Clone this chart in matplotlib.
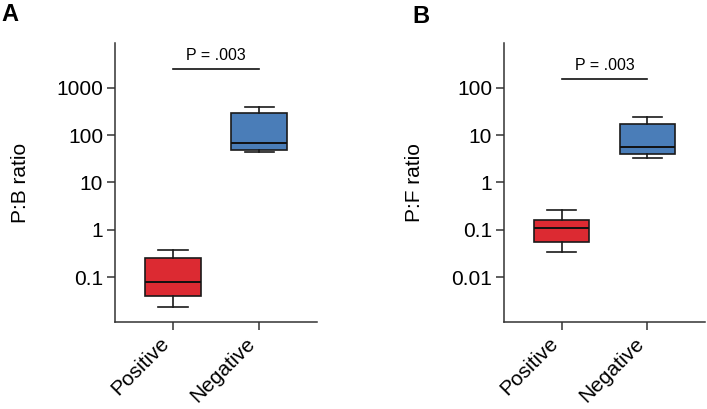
import matplotlib
matplotlib.use("Agg")
import matplotlib.pyplot as plt
import numpy as np

plt.rcParams['font.family'] = ['Liberation Sans', 'DejaVu Sans']

# data (box stats per group)
groups = ['Positive', 'Negative']
colors = ['#dc2a32', '#4a7db8']

# panel A: P:B ratio  (whislo, q1, med, q3, whishi)
pb_pos = [0.023, 0.040, 0.077, 0.25, 0.38]
pb_neg = [43.7, 48.2, 68.8, 292, 397]
# panel B: P:F ratio
pf_pos = [0.033, 0.055, 0.110, 0.160, 0.26]
pf_neg = [3.27, 4.03, 5.66, 17.3, 24.4]

p_text = 'P = .003'
sig_y_a = 2450
sig_y_b = 150

fig = plt.figure(figsize=(7.07, 4.09), dpi=100)

def make_stats(vals, label):
    lo, q1, med, q3, hi = vals
    return dict(label=label, whislo=lo, q1=q1, med=med, q3=q3, whishi=hi, fliers=[])

def draw_panel(rect, pos_vals, neg_vals, ylim, yticks, yticklabels, ylabel, sig_y, label_x):
    ax = fig.add_axes(rect)
    stats = [make_stats(pos_vals, groups[0]), make_stats(neg_vals, groups[1])]
    bp = ax.bxp(stats, positions=[0, 1], widths=0.65, capwidths=0.34,
                patch_artist=True, showfliers=False,
                boxprops=dict(edgecolor='#1a1a1a', linewidth=1.2),
                medianprops=dict(color='#111111', linewidth=1.4),
                whiskerprops=dict(color='#1a1a1a', linewidth=1.2),
                capprops=dict(color='#1a1a1a', linewidth=1.2))
    for patch, c in zip(bp['boxes'], colors):
        patch.set_facecolor(c)

    ax.set_yscale('log')
    ax.set_ylim(*ylim)
    ax.set_xlim(-0.67, 1.67)
    ax.set_yticks(yticks)
    ax.set_yticklabels(yticklabels, fontsize=15)
    ax.yaxis.set_minor_locator(matplotlib.ticker.NullLocator())
    ax.set_xticks([0, 1])
    ax.set_xticklabels(groups, fontsize=15, rotation=45, ha='right', va='top',
                       rotation_mode='default')

    for s in ['top', 'right']:
        ax.spines[s].set_visible(False)
    for s in ['left', 'bottom']:
        ax.spines[s].set_color('#333333')
        ax.spines[s].set_linewidth(1.1)
    ax.tick_params(length=5.5, width=1.1, color='#333333', pad=3)

    ax.set_ylabel(ylabel, fontsize=15)
    ax.yaxis.set_label_coords(label_x, 0.5)

    # significance bar
    ax.plot([0, 1], [sig_y, sig_y], color='#111111', lw=1.2, clip_on=False)
    ax.annotate(p_text, xy=(0.5, sig_y), xytext=(0, 10), textcoords='offset points',
                ha='center', va='center', fontsize=11.5)
    return ax

draw_panel([0.1627, 0.2127, 0.2857, 0.6822], pb_pos, pb_neg, (0.0112, 8800),
           [0.1, 1, 10, 100, 1000], ['0.1', '1', '10', '100', '1000'],
           'P:B ratio', sig_y_a, -0.42)
draw_panel([0.7129, 0.2127, 0.2843, 0.6822], pf_pos, pf_neg, (0.00112, 880),
           [0.01, 0.1, 1, 10, 100], ['0.01', '0.1', '1', '10', '100'],
           'P:F ratio', sig_y_b, -0.40)

fig.text(0.002, 0.992, 'A', fontsize=17, fontweight='bold', ha='left', va='top')
fig.text(0.583, 0.987, 'B', fontsize=17, fontweight='bold', ha='left', va='top')

fig.savefig('out.png', dpi=100)
